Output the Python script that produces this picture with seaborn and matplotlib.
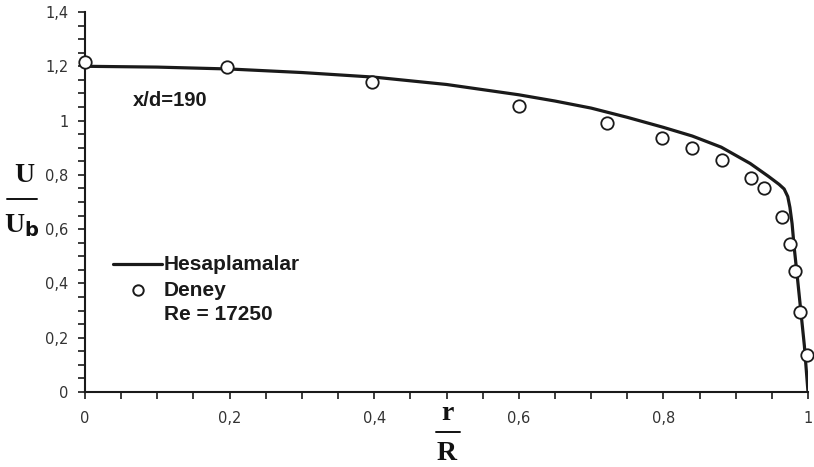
import matplotlib
matplotlib.use("Agg")
import matplotlib.pyplot as plt
import seaborn as sns
import pandas as pd
from matplotlib.ticker import MultipleLocator, FuncFormatter

# Hesaplamalar (computed profile)
calc_r = [0.0, 0.1, 0.2, 0.3, 0.4, 0.5, 0.6, 0.65, 0.7, 0.75, 0.8, 0.84, 0.88, 0.92,
          0.945, 0.96, 0.967, 0.972, 0.975, 0.978, 0.981, 0.985, 0.99, 0.995, 1.0]
calc_u = [1.2, 1.197, 1.19, 1.177, 1.16, 1.133, 1.095, 1.072, 1.046, 1.012, 0.975, 0.943,
          0.902, 0.842, 0.795, 0.765, 0.748, 0.72, 0.68, 0.62, 0.53, 0.43, 0.3, 0.17, 0.0]

# Deney (experiment)
exp_r = [0.0, 0.196, 0.397, 0.600, 0.722, 0.798, 0.840, 0.881, 0.921, 0.939,
         0.964, 0.975, 0.982, 0.989, 0.999]
exp_u = [1.215, 1.196, 1.141, 1.053, 0.990, 0.935, 0.898, 0.854, 0.788, 0.751,
         0.644, 0.545, 0.445, 0.294, 0.136]

x_ticks = [0, 0.2, 0.4, 0.6, 0.8, 1.0]
y_ticks = [0, 0.2, 0.4, 0.6, 0.8, 1.0, 1.2, 1.4]

sns.set_style("ticks")
plt.rcParams['font.family'] = ['DejaVu Sans']

fig = plt.figure(figsize=(8.14, 4.67), dpi=100)
ax = fig.add_axes([85/814, 1 - 392/467, 723/814, 380/467])

calc_df = pd.DataFrame({"r": calc_r, "u": calc_u})
exp_df = pd.DataFrame({"r": exp_r, "u": exp_u})

sns.lineplot(data=calc_df, x="r", y="u", sort=False, estimator=None, color="#1a1a1a",
             linewidth=2.3, ax=ax, zorder=2)
sns.scatterplot(data=exp_df, x="r", y="u", marker="o", s=80, facecolor="white",
                edgecolor="#1a1a1a", linewidth=1.3, ax=ax, zorder=3, clip_on=False)

ax.set_xlim(0, 1.0)
ax.set_ylim(0, 1.4)
ax.set_xticks(x_ticks)
ax.set_yticks(y_ticks)
ax.xaxis.set_minor_locator(MultipleLocator(0.05))
ax.yaxis.set_minor_locator(MultipleLocator(0.05))

def fmt(v, pos):
    s = f"{v:.1f}".rstrip("0").rstrip(".")
    return s.replace(".", ",")

ax.xaxis.set_major_formatter(FuncFormatter(fmt))
ax.yaxis.set_major_formatter(FuncFormatter(fmt))

ax.tick_params(which="both", direction="out", length=5, width=1.2, color="#1a1a1a",
               labelsize=10.5, labelcolor="#333333")
ax.tick_params(axis="x", pad=9)
ax.tick_params(axis="y", pad=7)
for s in ["top", "right"]:
    ax.spines[s].set_visible(False)
for s in ["left", "bottom"]:
    ax.spines[s].set_color("#1a1a1a")
    ax.spines[s].set_linewidth(1.5)
ax.set_xlabel("")
ax.set_ylabel("")

# Axis labels as fractions
serif = ['Liberation Serif', 'DejaVu Serif']
fig.text(24/814, 1 - 175/467, "U", family=serif, fontweight="bold", fontsize=20,
         ha="center", va="center", color="#111111")
fig.add_artist(plt.Line2D([7/814, 37/814], [1 - 199/467, 1 - 199/467], color="#111111", lw=1.4))
fig.text(22/814, 1 - 226/467, r"U$_{\mathbf{b}}$", family=serif, fontweight="bold", fontsize=20,
         ha="center", va="center", color="#111111")

fig.text(447/814, 1 - 414/467, "r", family=serif, fontweight="bold", fontsize=20,
         ha="center", va="center", color="#111111")
fig.add_artist(plt.Line2D([436/814, 460/814], [1 - 432/467, 1 - 432/467], color="#111111", lw=1.4))
fig.text(447/814, 1 - 454/467, "R", family=serif, fontweight="bold", fontsize=20,
         ha="center", va="center", color="#111111")

# Annotations / legend
sans = ['Liberation Sans', 'DejaVu Sans']
fig.text(133/814, 1 - 101/467, "x/d=190", family=sans, fontweight="bold", fontsize=14.5,
         ha="left", va="center", color="#1a1a1a")
fig.add_artist(plt.Line2D([113/814, 162/814], [1 - 264/467, 1 - 264/467], color="#1a1a1a", lw=2.3))
fig.text(164/814, 1 - 265/467, "Hesaplamalar", family=sans, fontweight="bold", fontsize=15,
         ha="left", va="center", color="#1a1a1a")
fig.add_artist(plt.Line2D([138/814], [1 - 290/467], marker="o", markersize=7.5, markerfacecolor="white",
                          markeredgecolor="#1a1a1a", markeredgewidth=1.4, linestyle="none"))
fig.text(164/814, 1 - 290/467, "Deney", family=sans, fontweight="bold", fontsize=15,
         ha="left", va="center", color="#1a1a1a")
fig.text(164/814, 1 - 315/467, "Re = 17250", family=sans, fontweight="bold", fontsize=15,
         ha="left", va="center", color="#1a1a1a")

fig.savefig("out.png", dpi=100)
